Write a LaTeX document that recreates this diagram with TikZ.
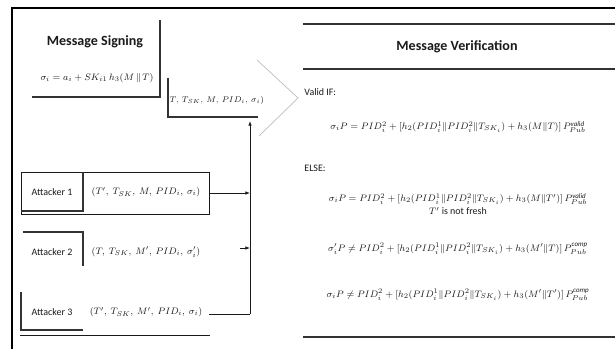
\documentclass[tikz,border=0pt]{standalone}
\usepackage{amsmath,amssymb}
\usepackage{fontspec}
\setmainfont{Carlito}
\usetikzlibrary{arrows.meta,calc,positioning}
\definecolor{inkdark}{HTML}{1A1A1A}
\definecolor{inkline}{HTML}{333333}
\definecolor{inklight}{HTML}{BDBDBD}
\tikzset{
  headtext/.style={font=\bfseries\fontsize{12}{14}\selectfont, text=inkdark, inner sep=1pt},
  plaintext/.style={font=\fontsize{8.5}{10}\selectfont, text=inkdark, inner sep=1pt},
  eqtext/.style={font=\fontsize{8.5}{10}\selectfont, text=inkdark, inner sep=1pt},
  smalleq/.style={eqtext, font=\fontsize{7}{8}\selectfont},
  attbox/.style={draw=inkdark, line width=0.6pt, minimum width=5.64cm, minimum height=1.26cm, inner sep=0pt},
  frameline/.style={draw=black, line width=2.2pt},
  boxline/.style={draw=inkline, line width=0.9pt},
  chevron/.style={draw=inklight, line width=0.6pt},
  arrow/.style={-{Latex[length=4pt,width=3pt]}, line width=0.6pt, draw=inkdark},
  flowline/.style={line width=0.6pt, draw=inkdark}
}

\begin{document}
\begin{tikzpicture}[x=0.03cm, y=-0.03cm]
  \useasboundingbox (0,0) rectangle (615,349);
  % outer frame
  \draw[frameline] (12,349) -- (12,8) -- (615,8);
  % signing side
  \node[headtext] (signtitle) at (95,42) {Message Signing};
  \node[eqtext] (signeq) at (97,78) {$\sigma_i = a_i + SK_{i1}\,h_3(M\,\|\,T)$};
  \draw[boxline] (160,20) |- (32,97);
  \node[smalleq] (tuple) at (215,100) {$(T,\,T_{SK},\,M,\,PID_i,\,\sigma_i)$};
  \draw[boxline] (168,78) |- (258,117);
  \draw[chevron] (257,60) -- (298,98) -- (259,136);
  % verification side
  \node[headtext] (vertitle) at (457,47) {Message Verification};
  \draw[boxline] (303,24) -- (615,24);
  \draw[boxline] (303,69) -- (615,69);
  \node[plaintext, anchor=west] (validif) at (303,92) {Valid IF:};
  \node[eqtext] (vereq1) at (458,127) {$\sigma_i P = PID_i^2 + [h_2(PID_i^1 \| PID_i^2 \| T_{SK_i}) + h_3(M \| T)]\,P_{Pub}^{\mathit{valid}}$};
  \node[plaintext, anchor=west] (elsetext) at (303,168) {ELSE:};
  \node[eqtext] (vereq2) at (458,199) {$\sigma_i P = PID_i^2 + [h_2(PID_i^1 \| PID_i^2 \| T_{SK_i}) + h_3(M \| T')]\,P_{Pub}^{\mathit{valid}}$};
  \node[plaintext, below=0pt of vereq2] (fresh) {$T'$ is not fresh};
  \node[eqtext] (vereq3) at (458,249) {$\sigma_i' P \neq PID_i^2 + [h_2(PID_i^1 \| PID_i^2 \| T_{SK_i}) + h_3(M' \| T)]\,P_{Pub}^{\mathit{comp}}$};
  \node[eqtext] (vereq4) at (458,295) {$\sigma_i P \neq PID_i^2 + [h_2(PID_i^1 \| PID_i^2 \| T_{SK_i}) + h_3(M' \| T')]\,P_{Pub}^{\mathit{comp}}$};
  \draw[boxline] (303,337) -- (615,337);
  % attackers
  \node[attbox] (box1) at (115,193) {};
  \node[plaintext] (att1) at (52,192) {Attacker 1};
  \draw[boxline] (83,172) |- (21,211);
  \node[eqtext] (tuple1) at (146,192) {$(T',\ T_{SK},\ M,\ PID_i,\ \sigma_i)$};
  \node[plaintext] (att2) at (52,252) {Attacker 2};
  \draw[boxline] (23,232) -| (83,266);
  \node[eqtext] (tuple2) at (146,252) {$(T,\ T_{SK},\ M',\ PID_i,\ \sigma_i')$};
  \node[plaintext] (att3) at (52,312) {Attacker 3};
  \draw[boxline] (21,292) |- (83,330);
  \draw[flowline] (20,335) -- (210,335);
  \node[eqtext] (tuple3) at (146,312) {$(T',\ T_{SK},\ M',\ PID_i,\ \sigma_i)$};
  % connectors
  \coordinate (join) at (250,314);
  \coordinate (bustop) at (250,121);
  \coordinate (tip2) at (240,248);
  \draw[flowline] (tuple3.east -| box1.east) ++(0,2) -- (join);
  \draw[arrow] (join) -- (bustop);
  \draw[arrow] (box1.east) -- (box1.east -| join);
  \draw[arrow] (tip2) -- (tip2 -| join);
\end{tikzpicture}
\end{document}
